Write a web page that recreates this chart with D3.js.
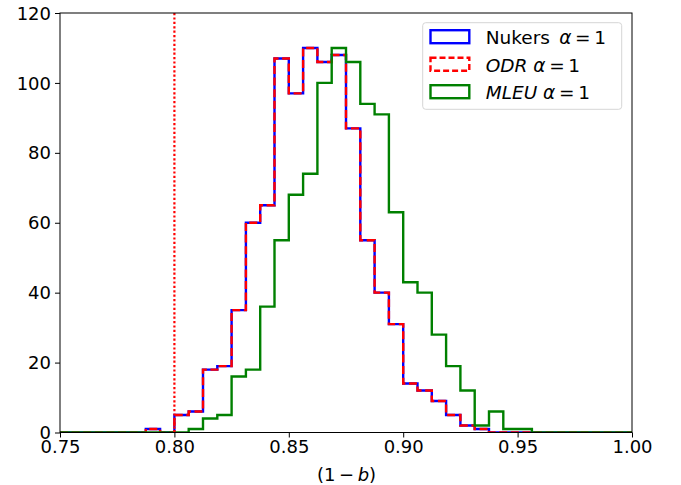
<!DOCTYPE html>
<html>
<head>
<meta charset="utf-8">
<script src="https://cdn.jsdelivr.net/npm/d3@7"></script>
<style>
  body { margin: 0; background: #fff; }
  svg text { font-family: "DejaVu Sans", sans-serif; fill: #000; }
</style>
</head>
<body>
<div id="chart"></div>
<script>
// histogram bins: 40 bins of equal width between 0.75 and 1.00
let binStart = 0.75, binEnd = 1.0, binCount = 40;

// counts per bin
let nukersCounts = [0,0,0,0,0,0,1,0,5,6, 18,19,35,60,65,107,97,110,106,108,
                    87,55,40,31,14,12,9,5,2,1, 0,0,0,0,0,0,0,0,0,0];
let odrCounts    = nukersCounts.slice(); // ODR sits exactly on top of Nukers
let mleuCounts   = [0,0,0,0,0,0,0,0,0,1, 4,5,16,18,36,55,68,74,100,110,
                    106,94,91,63,43,40,28,19,12,2, 6,1,1,0,0,0,0,0,0,0];

let xTicks = [0.75, 0.80, 0.85, 0.90, 0.95, 1.00];
let yTicks = [0, 20, 40, 60, 80, 100, 120];
let vlineX = 0.80;

let W = 681, H = 485;
let margin = {top: 13, right: 49, bottom: 52.5, left: 60},
    width = W - margin.left - margin.right,
    height = H - margin.top - margin.bottom;

let xScale = d3.scaleLinear().domain([0.75, 1.0]).range([0, width]);
let yScale = d3.scaleLinear().domain([0, 120]).range([height, 0]);

let edges = d3.range(binCount + 1).map(i => binStart + i * (binEnd - binStart) / binCount);

let svg = d3.select('#chart').append('svg')
  .attr('width', W).attr('height', H)
  .append('g')
  .attr('transform', 'translate(' + margin.left + ',' + margin.top + ')');

svg.append('defs').append('clipPath').attr('id', 'plotclip')
  .append('rect').attr('width', width).attr('height', height);

// step outline like matplotlib histtype='step'
function stepPoints(counts) {
  let pts = [[edges[0], 0]];
  counts.forEach(function(c, i) {
    pts.push([edges[i], c]);
    pts.push([edges[i + 1], c]);
  });
  pts.push([edges[binCount], 0]);
  return pts;
}

let line = d3.line()
  .x(function(d) { return xScale(d[0]); })
  .y(function(d) { return yScale(d[1]); });

let plot = svg.append('g').attr('clip-path', 'url(#plotclip)');

let series = [
  {counts: nukersCounts, color: '#0000ff', dash: null},
  {counts: odrCounts, color: '#ff0000', dash: '8,3.6'},
  {counts: mleuCounts, color: '#008000', dash: null}
];

series.forEach(function(s) {
  plot.append('path')
    .attr('d', line(stepPoints(s.counts)))
    .attr('fill', 'none')
    .attr('stroke', s.color)
    .attr('stroke-width', 2.4)
    .attr('stroke-linejoin', 'miter')
    .attr('stroke-dasharray', s.dash);
});

// red dotted vertical line
plot.append('line')
  .attr('x1', xScale(vlineX)).attr('x2', xScale(vlineX))
  .attr('y1', 0).attr('y2', height)
  .attr('stroke', '#ff0000')
  .attr('stroke-width', 2.2)
  .attr('stroke-dasharray', '2.2,2.2');

// axes
let xAxis = d3.axisBottom(xScale).tickValues(xTicks).tickFormat(d3.format('.2f'))
  .tickSizeInner(5).tickSizeOuter(0).tickPadding(4);
let yAxis = d3.axisLeft(yScale).tickValues(yTicks).tickFormat(d3.format('d'))
  .tickSizeInner(5).tickSizeOuter(0).tickPadding(4);

let gx = svg.append('g').attr('transform', 'translate(0,' + height + ')').call(xAxis);
let gy = svg.append('g').call(yAxis);
[gx, gy].forEach(function(g) {
  g.select('.domain').remove();
  g.selectAll('line').attr('stroke', '#000').attr('stroke-width', 1);
  g.selectAll('text').style('font-size', '18px').attr('fill', '#000');
});
gx.selectAll('text').attr('dy', null).attr('y', 20);
gy.selectAll('text').attr('dy', '0.34em');

// frame
svg.append('rect')
  .attr('width', width).attr('height', height)
  .attr('fill', 'none').attr('stroke', '#000').attr('stroke-width', 1);

// x label
let xl = svg.append('text')
  .attr('x', width / 2 + 0.5).attr('y', height + 48.5)
  .attr('text-anchor', 'middle').style('font-size', '18px');
xl.append('tspan').text('(1\u2009\u2212\u2009');
xl.append('tspan').style('font-style', 'italic').text('b');
xl.append('tspan').text(')');

// legend
let legend = svg.append('g').attr('transform', 'translate(' + (422.7 - margin.left) + ',' + (22.7 - margin.top) + ')');
legend.append('rect')
  .attr('width', 199).attr('height', 86.6).attr('rx', 3)
  .attr('fill', '#fff').attr('fill-opacity', 0.8)
  .attr('stroke', '#d6d6d6').attr('stroke-width', 1);

let legendItems = [
  {name: 'Nukers', italic: false, gap: '\u2002', color: '#0000ff', dash: null},
  {name: 'ODR', italic: true, gap: ' ', color: '#ff0000', dash: '6,3'},
  {name: 'MLEU', italic: true, gap: ' ', color: '#008000', dash: null}
];

legendItems.forEach(function(d, i) {
  let y0 = 7.5 + i * 27.5;
  legend.append('rect')
    .attr('x', 7.8).attr('y', y0)
    .attr('width', 38.8).attr('height', 13)
    .attr('fill', 'none').attr('stroke', d.color).attr('stroke-width', 2.4)
    .attr('stroke-dasharray', d.dash);
  let t = legend.append('text')
    .attr('x', 63).attr('y', y0 + 14)
    .style('font-size', '18.5px');
  t.append('tspan').style('font-style', d.italic ? 'italic' : 'normal').text(d.name);
  t.append('tspan').text(d.gap);
  t.append('tspan').style('font-style', 'italic').text('\u03b1');
  t.append('tspan').text('\u2009=\u20091');
});
</script>
</body>
</html>
